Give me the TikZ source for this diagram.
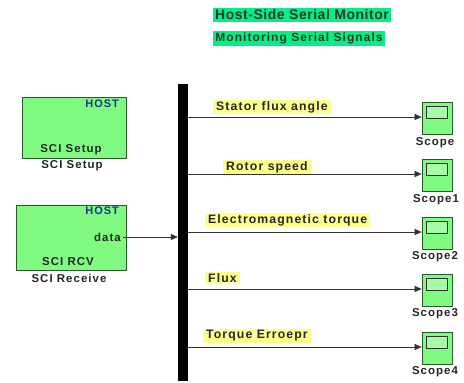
\documentclass[tikz,border=0pt]{standalone}
\usepackage{fontspec}
\setmainfont{Liberation Sans}
\newfontfamily\widefont[LetterSpace=9]{Liberation Sans}
\newfontfamily\titlefont[LetterSpace=4]{Liberation Sans}
\usetikzlibrary{arrows.meta}
\definecolor{blockgreen}{RGB}{128,250,128}
\definecolor{titlegreen}{RGB}{0,240,130}
\definecolor{hiyellow}{RGB}{255,255,140}
\definecolor{hostblue}{RGB}{20,50,150}
\definecolor{scopeedge}{RGB}{40,90,40}
\tikzset{
  blk/.style={draw=scopeedge, line width=0.7bp, fill=blockgreen},
  txt/.style={font=\widefont\bfseries\fontsize{11.5}{13}\selectfont, text=black!85, inner sep=0pt},
  hosttxt/.style={font=\widefont\bfseries\fontsize{11}{13}\selectfont, text=hostblue, inner sep=0pt},
  ttl/.style={fill=titlegreen, font=\titlefont\bfseries\fontsize{#1}{15}\selectfont, text=black!80, inner xsep=2bp, inner ysep=1.5bp},
  sig/.style={fill=hiyellow, font=\widefont\bfseries\fontsize{12.3}{14}\selectfont, text=black!85, inner xsep=3bp, inner ysep=1.2bp, anchor=west},
  scopebox/.style={draw=scopeedge, line width=0.7bp, fill=blockgreen, minimum width=30bp, minimum height=32bp, inner sep=0pt},
  screen/.style={draw=black!80, line width=0.7bp, fill=blockgreen!70!white, minimum width=21bp, minimum height=12bp, inner sep=0pt},
  wire/.style={line width=0.6bp, black!80, -{Triangle[length=7bp,width=6bp]}},
  scopelbl/.style={font=\widefont\bfseries\fontsize{11.5}{13}\selectfont, text=black!85, inner sep=0pt}
}
\begin{document}
\begin{tikzpicture}[x=1bp,y=-1bp]
\useasboundingbox[fill=white] (0,0) rectangle (464,382);
% titles
\node[ttl=14] (t1) at (302,15) {Host-Side Serial Monitor};
\node[ttl=12] (t2) at (299,38.5) {\widefont Monitoring Serial Signals};
% SCI Setup block
\node[blk, minimum width=104bp, minimum height=61bp, inner sep=0pt] (setup) at (74,127.5) {};
\node[hosttxt, anchor=east] (h1) at (119,104) {HOST};
\node[txt] (s1in) at (71,150) {SCI Setup};
\node[txt] (s1out) at (72,166) {SCI Setup};
% SCI Receive block
\node[blk, minimum width=110bp, minimum height=65bp, inner sep=0pt] (rcv) at (71,237.5) {};
\node[hosttxt, anchor=east] (h2) at (119,211) {HOST};
\node[txt, anchor=east] (data) at (121,237) {data};
\node[txt] (rcvin) at (68,262) {SCI RCV};
\node[txt] (rcvout) at (69,278) {SCI Receive};
% bus bar
\node[fill=black, minimum width=10bp, minimum height=297bp, inner sep=0pt] (bus) at (183,232.5) {};
\draw[wire] (data.east) ++(2,0) coordinate (dout) -- (bus.west |- dout);
% scopes
\foreach \i/\y/\lbl/\lx/\ly in {0/117/Stator flux angle/213/107, 1/174/Rotor speed/223/167, 2/232/Electromagnetic torque/205/220, 3/289/Flux/205/278, 4/347/Torque Erroepr/203/336}{
  \node[scopebox] (sc\i) at (437,\y+1) {};
  \node[screen] (scr\i) at (436.5,\y-5) {};
  \draw[wire] (bus.east |- sc\i) ++(0,-1) coordinate (bo\i) -- (sc\i.west |- bo\i);
  \node[sig] (lab\i) at (\lx,\ly) {\lbl};
}
\node[scopelbl] (n0) at (435,143) {Scope};
\node[scopelbl] (n1) at (436,200) {Scope1};
\node[scopelbl] (n2) at (435,257) {Scope2};
\node[scopelbl] (n3) at (435,314) {Scope3};
\node[scopelbl] (n4) at (435,372) {Scope4};
\end{tikzpicture}
\end{document}
